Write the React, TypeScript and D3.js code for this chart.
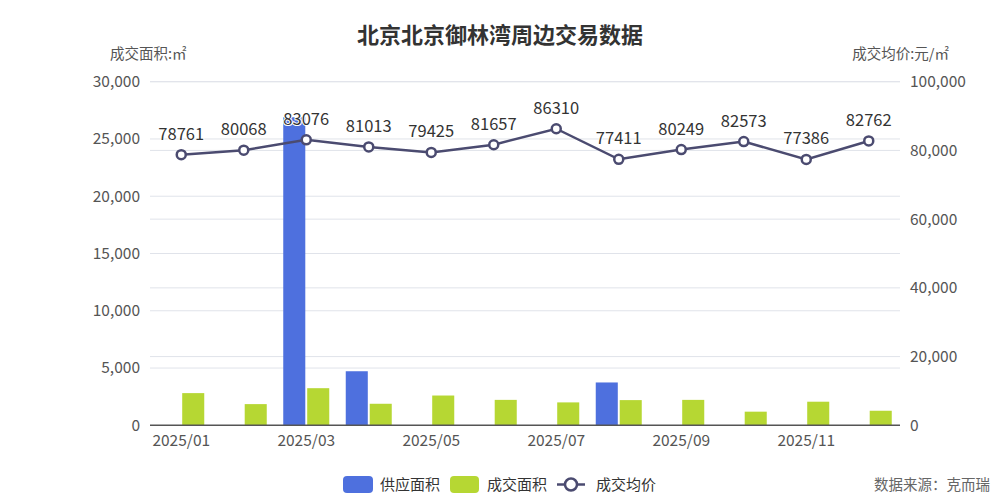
import React from "react";
import * as d3 from "d3";

const months = ["2025/01","2025/02","2025/03","2025/04","2025/05","2025/06","2025/07","2025/08","2025/09","2025/10","2025/11","2025/12"];
const supplyArea: (number | null)[] = [null, null, 26900, 4720, null, null, null, 3740, null, null, null, null];
const dealArea: number[] = [2810, 1850, 3240, 1880, 2600, 2220, 2000, 2200, 2220, 1190, 2060, 1270];
const avgPrice: number[] = [78761, 80068, 83076, 81013, 79425, 81657, 86310, 77411, 80249, 82573, 77386, 82762];
const leftTicks = [0, 5000, 10000, 15000, 20000, 25000, 30000];
const rightTicks = [0, 20000, 40000, 60000, 80000, 100000];
const seriesNames = ["供应面积", "成交面积", "成交均价"];

const W = 1000, H = 500;
const L = 150, R = 900, T = 81.7, B = 425.3;
const FONT = "'Noto Sans CJK SC', 'Noto Sans', sans-serif";
const BLUE = "#4e70de";
const GREEN = "#b6d733";
const LINE = "#4b4b70";

export default function App() {
  const x = d3.scaleBand<string>().domain(months).range([L, R]).padding(0);
  const sub = d3.scaleBand<string>().domain(["s", "d"]).range([-23, 23]).paddingInner(0.08);
  const yL = d3.scaleLinear().domain([0, 30000]).range([B, T]);
  const yR = d3.scaleLinear().domain([0, 100000]).range([B, T]);
  const cx = (m: string) => (x(m) as number) + x.bandwidth() / 2;
  const fmt = d3.format(",");
  const line = d3.line<number>().x((_, i) => cx(months[i])).y((v) => yR(v));

  return (
    <svg width={W} height={H} style={{ position: "absolute", left: 0, top: 0, fontFamily: FONT }}>
      <rect width={W} height={H} fill="#fff" />
      <text x={500} y={43} textAnchor="middle" fontSize={22} fontWeight="bold" fill="#333">北京北京御林湾周边交易数据</text>
      <text x={110} y={59} fontSize={14.5} fill="#555">成交面积:㎡</text>
      <text x={949} y={59} fontSize={14.5} fill="#555" textAnchor="end">成交均价:元/㎡</text>

      {leftTicks.map((t) => (
        <g key={"l" + t}>
          {t > 0 && <line x1={L} x2={R} y1={yL(t)} y2={yL(t)} stroke="#e0e3ea" strokeWidth={1} />}
          <text x={140} y={yL(t)} dy="0.35em" textAnchor="end" fontSize={15.5} fill="#555">{fmt(t)}</text>
        </g>
      ))}
      {rightTicks.map((t) => (
        <g key={"r" + t}>
          {t > 0 && <line x1={L} x2={R} y1={yR(t)} y2={yR(t)} stroke="#e0e3ea" strokeWidth={1} />}
          <text x={910} y={yR(t)} dy="0.35em" textAnchor="start" fontSize={15.5} fill="#555">{fmt(t)}</text>
        </g>
      ))}

      {months.map((m, i) => (
        <g key={"b" + m}>
          {supplyArea[i] != null && (
            <rect x={cx(m) + (sub("s") as number)} width={sub.bandwidth()} y={yL(supplyArea[i] as number)} height={B - yL(supplyArea[i] as number)} fill={BLUE} />
          )}
          <rect x={cx(m) + (sub("d") as number)} width={sub.bandwidth()} y={yL(dealArea[i])} height={B - yL(dealArea[i])} fill={GREEN} />
        </g>
      ))}

      <line x1={L} x2={R} y1={B} y2={B} stroke="#555" strokeWidth={1.5} />
      {months.map((m, i) => i % 2 === 0 ? (
        <text key={"x" + m} x={cx(m)} y={446} textAnchor="middle" fontSize={15.5} fill="#555">{m}</text>
      ) : null)}

      <path d={line(avgPrice) as string} fill="none" stroke={LINE} strokeWidth={2.5} />
      {avgPrice.map((v, i) => (
        <circle key={"c" + i} cx={cx(months[i])} cy={yR(v)} r={4.5} fill="#fff" stroke={LINE} strokeWidth={2.5} />
      ))}
      {avgPrice.map((v, i) => (
        <text key={"t" + i} x={cx(months[i])} y={yR(v) - 15} textAnchor="middle" fontSize={16.5} fill="#333"
          stroke="#fff" strokeWidth={2} paintOrder="stroke">{v}</text>
      ))}

      <g fontSize={15} fill="#333">
        <rect x={343} y={476} width={30} height={17} rx={4} fill={BLUE} />
        <text x={380} y={490}>{seriesNames[0]}</text>
        <rect x={450} y={476} width={29} height={17} rx={4} fill={GREEN} />
        <text x={487} y={490}>{seriesNames[1]}</text>
        <line x1={557} x2={585} y1={484.5} y2={484.5} stroke={LINE} strokeWidth={2.5} />
        <circle cx={571} cy={484.5} r={6} fill="#fff" stroke={LINE} strokeWidth={2.5} />
        <text x={596} y={490}>{seriesNames[2]}</text>
      </g>
      <text x={990} y={490} textAnchor="end" fontSize={14.5} fill="#666">数据来源：克而瑞</text>
    </svg>
  );
}
